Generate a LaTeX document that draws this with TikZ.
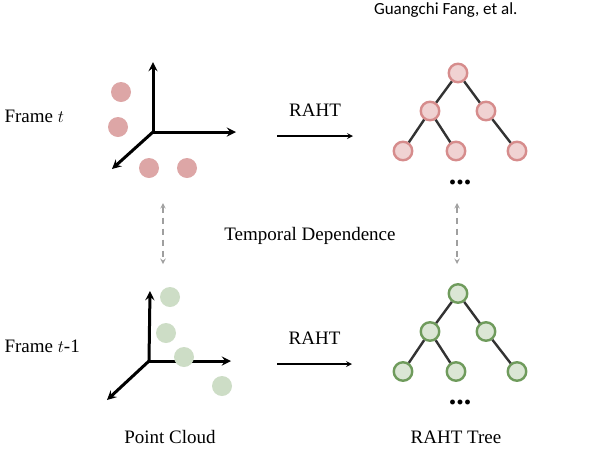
\documentclass[tikz,border=0pt]{standalone}
\usepackage{fontspec}
\setmainfont{Liberation Serif}
\newfontfamily\headfont{Carlito}
\usetikzlibrary{arrows.meta}
\definecolor{dotred}{HTML}{DDA6A6}
\definecolor{fillred}{HTML}{F0D2D2}
\definecolor{linered}{HTML}{D68C8C}
\definecolor{dotgreen}{HTML}{CDDDC6}
\definecolor{fillgreen}{HTML}{DBE6D5}
\definecolor{linegreen}{HTML}{6F9B5C}
\tikzset{
  axis/.style={->,line width=3pt},
  pt/.style={circle,inner sep=0pt,minimum size=20pt},
  tnode/.style={circle,draw,line width=2.4pt,inner sep=0pt,minimum size=18.5pt},
  tedge/.style={line width=2.4pt,draw=black!80},
  dep/.style={<->,gray!75,line width=1.4pt,dash pattern=on 6pt off 5pt},
}
\begin{document}
\begin{tikzpicture}[x=1pt,y=-1pt,>=stealth,font=\fontsize{19}{22}\selectfont]
	\useasboundingbox (0,0) rectangle (594,448);
	% header
	\node[font=\headfont\fontsize{17}{19}\selectfont,anchor=east] (head) at (521,10) {Guangchi Fang, et al.};
	% frame t
	\node[anchor=west] (ft) at (1,116) {Frame $t$};
	\coordinate (o1) at (153,132);
	\draw[axis] (o1)--(153,62);
	\draw[axis] (o1)--(236,132);
	\draw[axis] (o1)--(112,169);
	\foreach \p in {(121,92),(118,127),(149,168),(187,168)}
		\node[pt,fill=dotred] at \p {};
	% frame t-1
	\node[anchor=west] (ft1) at (1,346) {Frame $t$-1};
	\coordinate (o2) at (149,361);
	\draw[axis] (o2)--(150,291);
	\draw[axis] (o2)--(231,361);
	\draw[axis] (o2)--(107,400);
	\foreach \p in {(170,297),(166,333),(184,357),(222,386)}
		\node[pt,fill=dotgreen] at \p {};
	% RAHT arrows
	\coordinate (a1) at (277,136);
	\coordinate (b1) at (353,136);
	\draw[->,line width=1.6pt] (a1)--(b1) node[midway,above=15pt]{RAHT};
	\coordinate (a2) at (277,364);
	\coordinate (b2) at (352,364);
	\draw[->,line width=1.6pt] (a2)--(b2) node[midway,above=15pt]{RAHT};
	% trees
	\foreach \s/\dy/\fc/\lc in {t/0/fillred/linered,b/220.5/fillgreen/linegreen}{
		\begin{scope}[yshift=-\dy pt]
		\node[tnode,fill=\fc,draw=\lc] (\s r) at (458,73) {};
		\node[tnode,fill=\fc,draw=\lc] (\s a) at (430,111) {};
		\node[tnode,fill=\fc,draw=\lc] (\s b) at (486,111) {};
		\node[tnode,fill=\fc,draw=\lc] (\s c) at (403,151) {};
		\node[tnode,fill=\fc,draw=\lc] (\s d) at (456,151) {};
		\node[tnode,fill=\fc,draw=\lc] (\s e) at (517,151) {};
		\draw[tedge] (\s r)--(\s a) (\s r)--(\s b) (\s a)--(\s c) (\s a)--(\s d) (\s b)--(\s e);
		\node[font=\fontsize{30}{30}\selectfont\bfseries,anchor=base,inner sep=0pt] (\s dots) at (460,184) {...};
		\end{scope}
	}
	% temporal dependence
	\coordinate (l1) at (163,203);
	\coordinate (l2) at (163,264);
	\coordinate (r1) at (457,203);
	\coordinate (r2) at (457,264);
	\draw[dep] (l1)--(l2);
	\draw[dep] (r1)--(r2);
	\node (td) at (310,236) {Temporal Dependence};
	% captions
	\node (pc) at (170,437) {Point Cloud};
	\node (rt) at (456,437) {RAHT Tree};
\end{tikzpicture}
\end{document}
